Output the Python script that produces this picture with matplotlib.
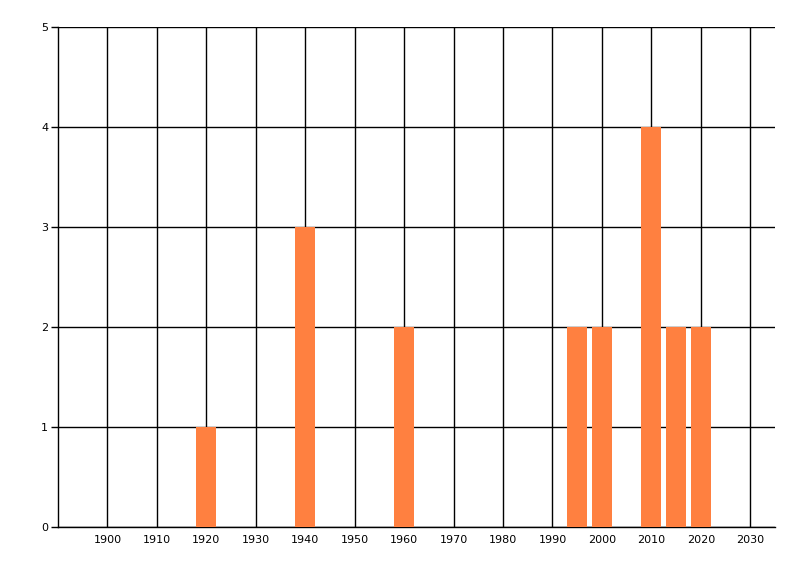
import matplotlib
matplotlib.use("Agg")
import matplotlib.pyplot as plt

# dados
anos = [1920, 1940, 1960, 1995, 2000, 2010, 2015, 2020]
contagens = [1, 3, 2, 2, 2, 4, 2, 2]
anos_ticks = list(range(1900, 2031, 10))
y_ticks = [0, 1, 2, 3, 4, 5]

fig = plt.figure(figsize=(8, 5.76), dpi=100)
ax = fig.add_axes([58 / 800, 1 - 527 / 576, (775 - 58) / 800, 500 / 576])

ax.bar(anos, contagens, width=4, color="#FF8040", zorder=3)

ax.set_xlim(1890, 2035)
ax.set_ylim(0, 5)
ax.set_xticks(anos_ticks)
ax.set_yticks(y_ticks)
ax.grid(True, color="black", linewidth=1, zorder=1)
ax.set_axisbelow(True)

for lado in ["top", "right"]:
    ax.spines[lado].set_visible(False)
for lado in ["left", "bottom"]:
    ax.spines[lado].set_linewidth(1)
    ax.spines[lado].set_color("black")

ax.tick_params(axis="y", length=5, width=1, labelsize=8, pad=2)
ax.tick_params(axis="x", length=0, labelsize=8, pad=6)

plt.savefig("out.png", dpi=100)
plt.close()
